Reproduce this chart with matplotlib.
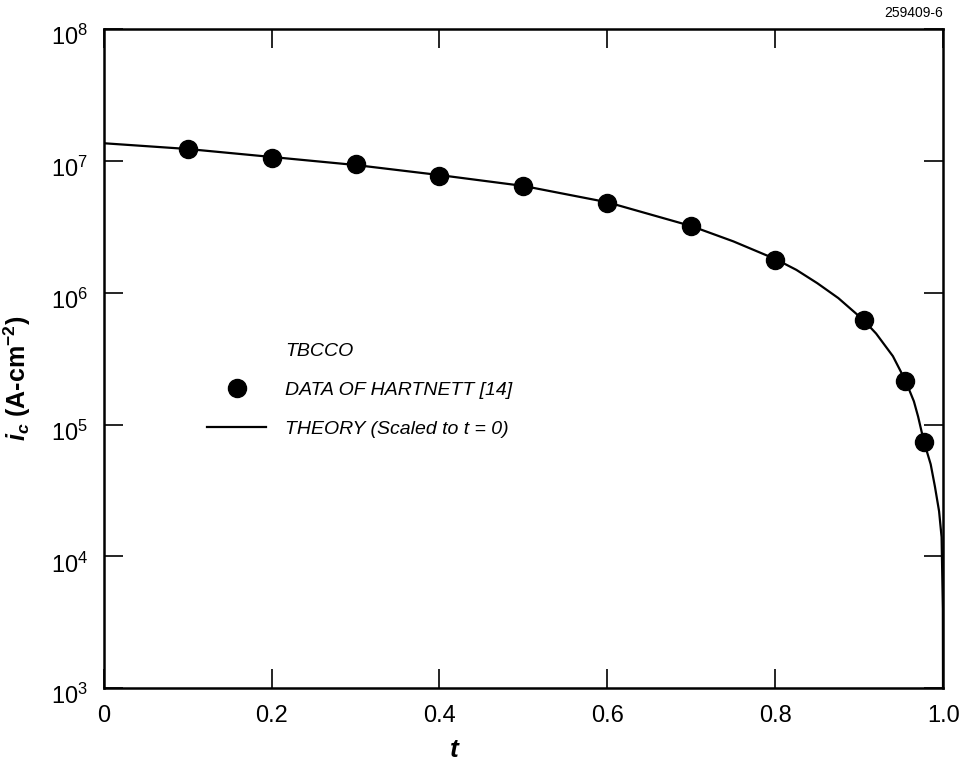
import numpy as np
import matplotlib
matplotlib.use("Agg")
import matplotlib.pyplot as plt
import matplotlib.transforms as mtransforms
from matplotlib.lines import Line2D

# -------------------------------------------------
# DATA
# -------------------------------------------------
t_data = [0.1, 0.2, 0.3, 0.4, 0.5, 0.6, 0.7, 0.8, 0.905, 0.955, 0.977]
ic_data = [1.24e7, 1.05e7, 9.4e6, 7.64e6, 6.5e6, 4.8e6, 3.2e6, 1.78e6, 6.2e5, 2.15e5, 7.4e4]

t_theory = [0.0, 0.1, 0.2, 0.3, 0.4, 0.5, 0.6, 0.7, 0.75, 0.8, 0.825, 0.85, 0.875, 0.905,
            0.92, 0.94, 0.955, 0.965, 0.97, 0.977, 0.985, 0.99, 0.995, 0.998, 0.9995, 1.0]
ic_theory = [1.36e7, 1.23e7, 1.07e7, 9.3e6, 7.8e6, 6.45e6, 4.85e6, 3.2e6, 2.45e6, 1.8e6,
             1.49e6, 1.18e6, 9.1e5, 6.2e5,
             4.9e5, 3.3e5, 2.15e5, 1.5e5, 1.15e5, 7.4e4, 5.0e4, 3.4e4, 2.2e4, 1.4e4, 4.0e3, 1.0e2]

x_ticks = [0, 0.2, 0.4, 0.6, 0.8, 1.0]
x_ticklabels = ["0", "0.2", "0.4", "0.6", "0.8", "1.0"]
y_ticks = [1e3, 1e4, 1e5, 1e6, 1e7, 1e8]
y_ticklabels = [r"10$^{3}$", r"10$^{4}$", r"10$^{5}$", r"10$^{6}$", r"10$^{7}$", r"10$^{8}$"]

legend_labels = ["TBCCO", "DATA OF HARTNETT [14]", "THEORY (Scaled to t = 0)"]

# -------------------------------------------------
# STYLE
# -------------------------------------------------
plt.rcParams["font.family"] = ["Liberation Sans", "DejaVu Sans"]
plt.rcParams["mathtext.fontset"] = "custom"
plt.rcParams["mathtext.rm"] = "Liberation Sans"
plt.rcParams["mathtext.it"] = "Liberation Sans:italic"
plt.rcParams["mathtext.bf"] = "Liberation Sans:bold"
plt.rcParams["mathtext.bfit"] = "Liberation Sans:bold:italic"

fig = plt.figure(figsize=(9.64, 7.63), dpi=100)
ax = fig.add_axes([0.1075, 0.098, 0.871, 0.864])

# ---- theory curve and data points ----
ax.plot(t_theory, ic_theory, color="black", lw=1.6, solid_capstyle="butt",
        solid_joinstyle="round", zorder=2)
ax.plot(t_data, ic_data, "o", color="black", ms=13, zorder=3)

# ---- axes ----
ax.set_yscale("log")
ax.set_xlim(0, 1.0)
ax.set_ylim(1e3, 1e8)
ax.set_xticks(x_ticks)
ax.set_xticklabels(x_ticklabels)
ax.set_yticks(y_ticks)
ax.set_yticklabels(y_ticklabels)
ax.minorticks_off()
ax.tick_params(axis="both", which="major", direction="in", length=14, width=1.2,
               top=True, right=True, labelsize=17, color="black")
ax.tick_params(axis="x", pad=12)
ax.tick_params(axis="y", pad=11)
for s in ax.spines.values():
    s.set_linewidth(1.8)

# y tick labels sit a little below their ticks in the original
shift = mtransforms.ScaledTranslation(0, -6 / 100, fig.dpi_scale_trans)
for lbl in ax.get_yticklabels():
    lbl.set_transform(lbl.get_transform() + shift)

ax.set_xlabel("t", fontsize=19, fontweight="bold", fontstyle="italic")
ax.xaxis.set_label_coords(0.418, -0.075)
ax.set_ylabel(r"$\mathbfit{i}_{\mathbfit{c}}$ (A-cm$^{\mathbf{-2}}$)", fontsize=18,
              fontweight="bold")
ax.yaxis.set_label_coords(-0.084, 0.47)

# ---- legend ----
handles = [
    Line2D([], [], linestyle="none", marker=None),
    Line2D([], [], linestyle="none", marker="o", color="black", ms=13),
    Line2D([], [], color="black", lw=1.6),
]
leg = ax.legend(handles, legend_labels, loc="upper left", bbox_to_anchor=(0.112, 0.54),
                frameon=False, handlelength=3.0, handletextpad=1.0, labelspacing=1.1,
                borderpad=0, prop={"size": 14, "style": "italic"})

fig.text(0.978, 0.983, "259409-6", ha="right", va="center", fontsize=10)

fig.savefig("out.png", dpi=100)
